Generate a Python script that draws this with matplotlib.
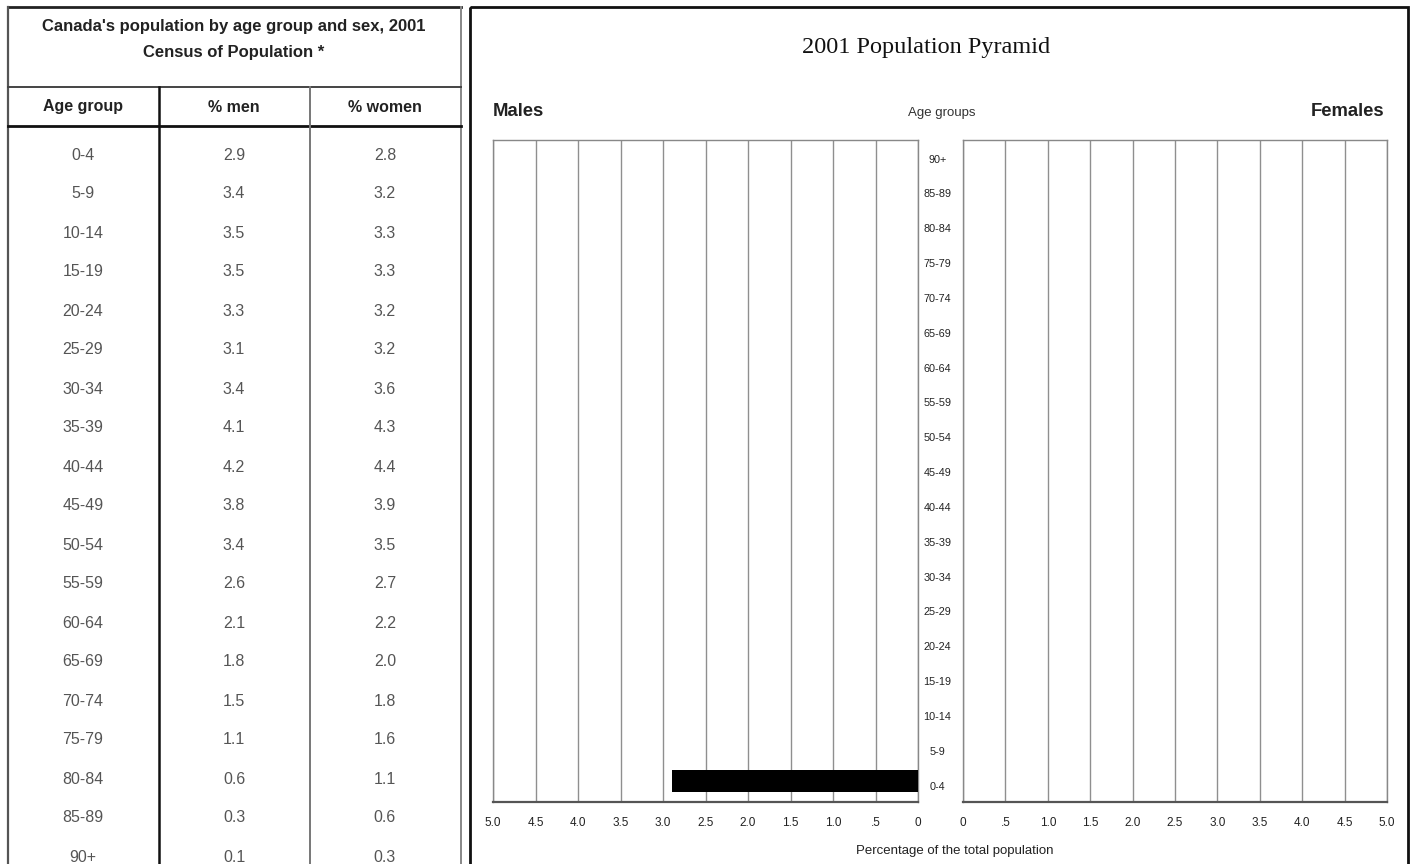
import matplotlib
matplotlib.use("Agg")
import matplotlib.pyplot as plt
from matplotlib import font_manager
from matplotlib.patches import Rectangle

# data
age_groups = ["0-4", "5-9", "10-14", "15-19", "20-24", "25-29", "30-34", "35-39",
              "40-44", "45-49", "50-54", "55-59", "60-64", "65-69", "70-74",
              "75-79", "80-84", "85-89", "90+"]
men_pct = [2.9, 3.4, 3.5, 3.5, 3.3, 3.1, 3.4, 4.1, 4.2, 3.8, 3.4, 2.6, 2.1,
           1.8, 1.5, 1.1, 0.6, 0.3, 0.1]
women_pct = [2.8, 3.2, 3.3, 3.3, 3.2, 3.2, 3.6, 4.3, 4.4, 3.9, 3.5, 2.7, 2.2,
             2.0, 1.8, 1.6, 1.1, 0.6, 0.3]
# only the first male bar has been drawn in the pyramid so far
drawn_men = men_pct[:1]
drawn_women = []

tick_vals = [0, 0.5, 1.0, 1.5, 2.0, 2.5, 3.0, 3.5, 4.0, 4.5, 5.0]
tick_text = ["0", ".5", "1.0", "1.5", "2.0", "2.5", "3.0", "3.5", "4.0", "4.5", "5.0"]

names = {f.name for f in font_manager.fontManager.ttflist}
NARROW = "Liberation Sans Narrow" if "Liberation Sans Narrow" in names else "Liberation Sans"
SANS = "Liberation Sans"
SERIF = "Liberation Serif"

W, H = 1415, 864
fig = plt.figure(figsize=(W / 100, H / 100), dpi=100)

# background axes in pixel coordinates for the table and frames
bg = fig.add_axes([0, 0, 1, 1], zorder=0)
bg.set_xlim(0, W)
bg.set_ylim(H, 0)
bg.axis("off")

# table frame
bg.plot([8, 461], [7, 7], color="#222222", lw=2)
bg.plot([8, 8], [7, H], color="#555555", lw=1.6)
bg.plot([461, 461], [7, H], color="#888888", lw=1.4)
bg.plot([8, 461], [87, 87], color="#444444", lw=1.4)
bg.plot([8, 461], [126, 126], color="#111111", lw=2)
bg.plot([159, 159], [87, H], color="#111111", lw=1.8)
bg.plot([310, 310], [87, H], color="#777777", lw=1.4)

bg.text(234, 27, "Canada's population by age group and sex, 2001", ha="center", va="center",
        fontsize=12, fontweight="bold", family=NARROW, color="#222222")
bg.text(234, 53, "Census of Population *", ha="center", va="center",
        fontsize=12, fontweight="bold", family=NARROW, color="#222222")

col_x = [83, 234, 385]
for cx, head in zip(col_x, ["Age group", "% men", "% women"]):
    bg.text(cx, 107, head, ha="center", va="center", fontsize=11.5, fontweight="bold",
            family=NARROW, color="#222222")

for i, (ag, m, w) in enumerate(zip(age_groups, men_pct, women_pct)):
    y = 155 + i * 39
    bg.text(col_x[0], y, ag, ha="center", va="center", fontsize=11.5, family=NARROW, color="#555555")
    bg.text(col_x[1], y, f"{m:.1f}", ha="center", va="center", fontsize=11.5, family=NARROW, color="#555555")
    bg.text(col_x[2], y, f"{w:.1f}", ha="center", va="center", fontsize=11.5, family=NARROW, color="#555555")

# pyramid panel frame
bg.add_patch(Rectangle((470, 7), 1408 - 470, H + 10, fill=False, ec="#111111", lw=2))
bg.text(926, 47, "2001 Population Pyramid", ha="center", va="center",
        fontsize=17.5, family=SERIF, color="#111111")
bg.text(493, 112, "Males", ha="left", va="center", fontsize=13.3, fontweight="bold", family=SANS, color="#222222")
bg.text(1384, 112, "Females", ha="right", va="center", fontsize=13.3, fontweight="bold", family=SANS, color="#222222")
bg.text(942, 113, "Age groups", ha="center", va="center", fontsize=9.5, family=SANS, color="#333333")
bg.text(955, 851, "Percentage of the total population", ha="center", va="center",
        fontsize=9.5, family=SANS, color="#222222")

ax_top = 1 - 140 / H
ax_h = 662 / H
ax_m = fig.add_axes([493 / W, ax_top - ax_h, 425 / W, ax_h], zorder=1)
ax_f = fig.add_axes([963 / W, ax_top - ax_h, 424 / W, ax_h], zorder=1)

n = len(age_groups)
for ax in (ax_m, ax_f):
    ax.set_facecolor("none")
    ax.set_ylim(-0.5, n - 0.5)
    ax.set_yticks([])
    ax.set_xticks(tick_vals)
    ax.set_xticklabels(tick_text, family=SANS, fontsize=8.5, color="#222222")
    ax.tick_params(axis="x", length=0, pad=11)
    ax.grid(axis="x", color="#8f8f8f", lw=1.0)
    ax.set_axisbelow(True)
    for s in ax.spines.values():
        s.set_color("#888888")
        s.set_linewidth(1.0)
    ax.spines["bottom"].set_color("#555555")
    ax.spines["bottom"].set_linewidth(1.6)

ax_m.set_xlim(5.0, 0)
ax_f.set_xlim(0, 5.0)

# bars sit a little above the centre of their age slot, as in the original
ax_m.barh([i + 0.1 for i in range(len(drawn_men))], drawn_men, height=0.65, color="black", zorder=3)
if drawn_women:
    ax_f.barh([i + 0.1 for i in range(len(drawn_women))], drawn_women, height=0.65, color="black", zorder=3)

# age group labels between the two halves
for i, ag in enumerate(age_groups):
    ax_m.annotate(ag, xy=(1.0, i), xycoords=("axes fraction", "data"), xytext=(14, -1.5),
                  textcoords="offset points", ha="center", va="center",
                  fontsize=7.8, family=SANS, color="#222222")

fig.savefig("out.png", dpi=100)
